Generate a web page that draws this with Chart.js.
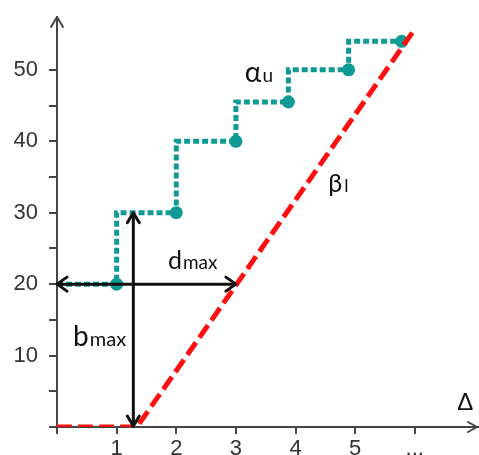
<!DOCTYPE html>
<html>
<head>
<meta charset="utf-8">
<script src="https://cdn.jsdelivr.net/npm/chart.js@4.4.1/dist/chart.umd.min.js"></script>
<style>
  html, body { margin: 0; padding: 0; background: #fff; }
  #wrap { width: 479px; height: 455px; }
</style>
</head>
<body>
<div id="wrap"><canvas id="c" width="479" height="455"></canvas></div>
<script>
// Upper bound αu: staircase through the sampled points
const upperX = [0, 1, 2, 3, 3.88, 4.89, 5.78];
const upperY = [20, 20, 30, 40, 45.5, 50, 54];
const upperRadius = [0, 6.5, 6.5, 6.5, 6.5, 6.5, 6.5];

// Lower bound βl: flat at zero, then a straight rise
const lowerX = [0, 1.34, 6.0];
const lowerY = [0, 0, 55.7];

// Dimension arrows b_max (vertical) and d_max (horizontal)
const bmaxX = [1.28, 1.28];
const bmaxY = [0, 30];
const dmaxX = [0, 3];
const dmaxY = [20, 20];

// Axis ticks
const xTickValues = [0, 1, 2, 3, 4, 5, 6];
const xTickLabels = ['', '1', '2', '3', '4', '5', '...'];
const yTickValues = [0, 5, 10, 15, 20, 25, 30, 35, 40, 45, 50];
const yTickLabels = ['', '', '10', '', '20', '', '30', '', '40', '', '50'];

const X_MAX = 7.06;
const Y_MAX = 57.4;

const TEAL = '#0f9a96';
const RED = '#ff1010';
const AXIS = '#454545';
const INK = '#111';

const pts = (xs, ys) => xs.map((v, i) => ({ x: v, y: ys[i] }));

function chevron(ctx, tx, ty, dx, dy, len, half) {
  const bx = tx - dx * len, by = ty - dy * len;
  const px = -dy, py = dx;
  ctx.beginPath();
  ctx.moveTo(bx + px * half, by + py * half);
  ctx.lineTo(tx, ty);
  ctx.lineTo(bx - px * half, by - py * half);
  ctx.stroke();
}

function drawParts(ctx, x, y, parts) {
  ctx.textBaseline = 'alphabetic';
  ctx.textAlign = 'left';
  let cx = x;
  for (const p of parts) {
    ctx.font = p.font;
    ctx.fillText(p.text, cx, y);
    cx += ctx.measureText(p.text).width + (p.gap || 0);
  }
}

const decorations = {
  id: 'decorations',
  afterDraw(chart) {
    const { ctx, chartArea, scales } = chart;
    const xs = scales.x, ys = scales.y;
    ctx.save();
    ctx.lineCap = 'round';
    ctx.lineJoin = 'round';

    // axis arrowheads
    ctx.strokeStyle = AXIS;
    ctx.lineWidth = 2;
    chevron(ctx, xs.getPixelForValue(0), chartArea.top, 0, -1, 10, 6);
    chevron(ctx, chartArea.right - 1, ys.getPixelForValue(0), 1, 0, 9, 5);

    // dimension arrowheads
    ctx.strokeStyle = INK;
    ctx.lineWidth = 3;
    const bx = xs.getPixelForValue(bmaxX[0]);
    chevron(ctx, bx, ys.getPixelForValue(bmaxY[1]), 0, -1, 10, 6);
    chevron(ctx, bx, ys.getPixelForValue(bmaxY[0]) - 1, 0, 1, 10, 6);
    const dy = ys.getPixelForValue(dmaxY[0]);
    chevron(ctx, xs.getPixelForValue(dmaxX[0]), dy, -1, 0, 10, 7);
    chevron(ctx, xs.getPixelForValue(dmaxX[1]), dy, 1, 0, 10, 7);

    // curve and dimension labels
    ctx.fillStyle = INK;
    const at = (vx, vy) => [xs.getPixelForValue(vx), ys.getPixelForValue(vy)];
    let p;
    p = at(3.15, 48.3);
    drawParts(ctx, p[0], p[1], [
      { text: 'α', font: '28px Lato', gap: 1 },
      { text: 'u', font: '19px Lato' }
    ]);
    p = at(4.55, 32.9);
    drawParts(ctx, p[0], p[1], [
      { text: 'β', font: '25px Lato', gap: 2 },
      { text: 'l', font: '18px Lato' }
    ]);
    p = at(0.27, 11.3);
    drawParts(ctx, p[0], p[1], [
      { text: 'b', font: '28px Lato', gap: 1 },
      { text: 'max', font: '20px Lato' }
    ]);
    p = at(1.86, 22.1);
    drawParts(ctx, p[0], p[1], [
      { text: 'd', font: '25px Lato', gap: 1 },
      { text: 'max', font: '19px Lato' }
    ]);
    p = at(6.71, 2.4);
    drawParts(ctx, p[0], p[1], [
      { text: 'Δ', font: '24px "Liberation Sans"' }
    ]);
    ctx.restore();
  }
};

new Chart(document.getElementById('c'), {
  type: 'scatter',
  data: {
    datasets: [
      {
        label: 'bmax',
        data: pts(bmaxX, bmaxY),
        showLine: true,
        borderColor: INK,
        borderWidth: 3,
        pointRadius: 0,
        order: 0
      },
      {
        label: 'dmax',
        data: pts(dmaxX, dmaxY),
        showLine: true,
        borderColor: INK,
        borderWidth: 3,
        pointRadius: 0,
        order: 0
      },
      {
        label: 'βl',
        data: pts(lowerX, lowerY),
        showLine: true,
        borderColor: RED,
        borderWidth: 5,
        borderDash: [15, 6],
        pointRadius: 0,
        order: 1
      },
      {
        label: 'αu',
        data: pts(upperX, upperY),
        showLine: true,
        stepped: 'after',
        borderColor: TEAL,
        borderWidth: 5,
        borderDash: [6, 3],
        borderCapStyle: 'butt',
        pointRadius: upperRadius,
        pointBackgroundColor: TEAL,
        pointBorderWidth: 0,
        order: 2
      }
    ]
  },
  options: {
    responsive: false,
    animation: false,
    layout: { autoPadding: false, padding: { top: 17, right: 1, left: 0, bottom: 0 } },
    plugins: {
      legend: { display: false },
      tooltip: { enabled: false }
    },
    scales: {
      x: {
        type: 'linear',
        min: 0,
        max: X_MAX,
        afterBuildTicks: (s) => { s.ticks = xTickValues.map(v => ({ value: v })); },
        afterFit: (s) => { s.height = 28; s.paddingLeft = 0; s.paddingRight = 0; },
        ticks: {
          autoSkip: false,
          maxRotation: 0,
          padding: 2,
          color: '#333',
          font: { family: '"Liberation Sans"', size: 22 },
          callback: (v) => xTickLabels[xTickValues.indexOf(v)]
        },
        grid: { drawOnChartArea: false, drawTicks: true, tickLength: 7, color: AXIS, lineWidth: 2 },
        border: { display: true, color: AXIS, width: 2 }
      },
      y: {
        type: 'linear',
        min: 0,
        max: Y_MAX,
        afterBuildTicks: (s) => { s.ticks = yTickValues.map(v => ({ value: v })); },
        afterFit: (s) => { s.width = 57; s.paddingTop = 0; s.paddingBottom = 0; },
        ticks: {
          autoSkip: false,
          padding: 11,
          color: '#333',
          font: { family: '"Liberation Sans"', size: 22 },
          callback: (v) => yTickLabels[yTickValues.indexOf(v)]
        },
        grid: { drawOnChartArea: false, drawTicks: true, tickLength: 8, color: AXIS, lineWidth: 2 },
        border: { display: true, color: AXIS, width: 2 }
      }
    }
  },
  plugins: [decorations]
});
</script>
</body>
</html>
